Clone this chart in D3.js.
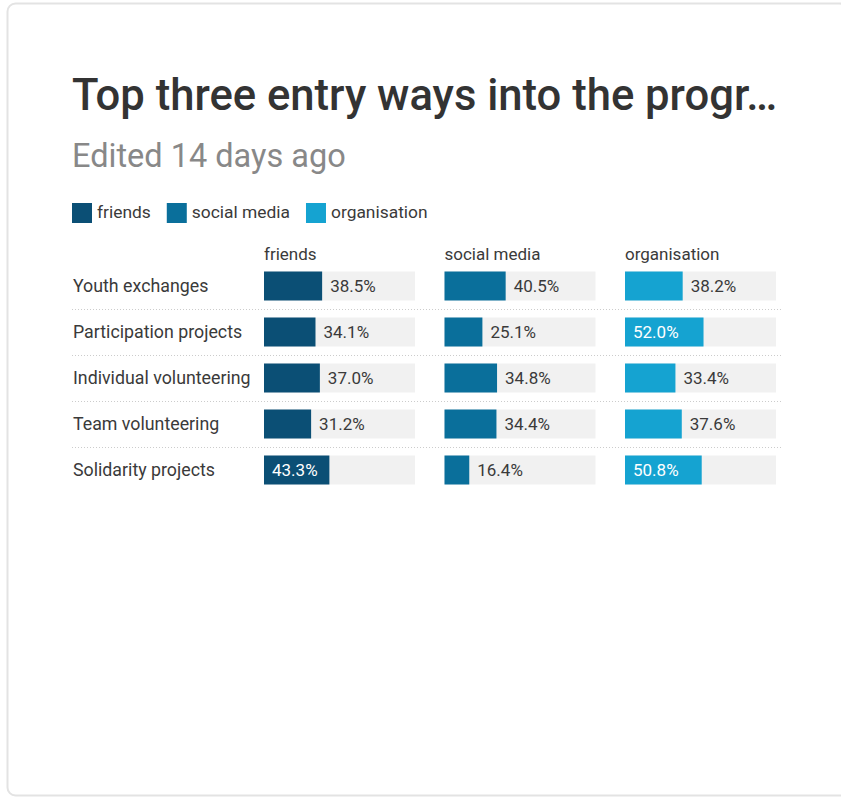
<!DOCTYPE html>
<meta charset="utf-8">
<script src="https://d3js.org/d3.v7.min.js"></script>
<style>
  body { margin: 0; background: #fff; font-family: Roboto, sans-serif; }
</style>
<div id="my_dataviz"></div>
<script>
// data
var categories = ["Youth exchanges", "Participation projects", "Individual volunteering", "Team volunteering", "Solidarity projects"];
var series = ["friends", "social media", "organisation"];
var friends = [38.5, 34.1, 37.0, 31.2, 43.3];
var socialMedia = [40.5, 25.1, 34.8, 34.4, 16.4];
var organisation = [38.2, 52.0, 33.4, 37.6, 50.8];
var colors = ["#0b4f75", "#0a6f9b", "#15a3d1"];

var values = [friends, socialMedia, organisation];

var W = 841, H = 799;
var svg = d3.select("#my_dataviz").append("svg")
  .attr("width", W).attr("height", H);

// card frame
svg.append("rect")
  .attr("x", 7.5).attr("y", 3.5).attr("width", 840).attr("height", 792)
  .attr("rx", 8).attr("fill", "#fff").attr("stroke", "#e3e3e3").attr("stroke-width", 2);

// title + subtitle
svg.append("text").attr("x", 72).attr("y", 110)
  .attr("font-size", 43.6).attr("font-weight", 500).attr("fill", "#333")
  .text("Top three entry ways into the progr\u2026");
svg.append("text").attr("x", 72).attr("y", 167)
  .attr("font-size", 32.5).attr("fill", "#888")
  .text("Edited 14 days ago");

// legend
var legend = svg.append("g").attr("transform", "translate(72,203)");
var lx = 0;
series.forEach(function(s, i) {
  var g = legend.append("g").attr("transform", "translate(" + lx + ",0)");
  g.append("rect").attr("width", 20).attr("height", 20).attr("fill", colors[i]);
  var t = g.append("text").attr("x", 25).attr("y", 15)
    .attr("font-size", 17.4).attr("fill", "#3a3a3a").text(s);
  lx += 25 + t.node().getComputedTextLength() + 16;
});

// rows and columns
var y = d3.scaleBand().domain(categories).range([263, 493]).paddingInner(0.37).paddingOuter(0.185);
var colX = d3.scalePoint().domain(series).range([264, 625]);
var x = d3.scaleLinear().domain([0, 100]).range([0, 151]);

// column headers
svg.selectAll(".colhead").data(series).enter().append("text")
  .attr("x", function(d) { return colX(d); }).attr("y", 260)
  .attr("font-size", 17).attr("fill", "#3a3a3a").text(function(d) { return d; });

// row labels
svg.selectAll(".rowlab").data(categories).enter().append("text")
  .attr("x", 73).attr("y", function(d) { return y(d) + y.bandwidth() / 2 + 6; })
  .attr("font-size", 17.8).attr("fill", "#3a3a3a").text(function(d) { return d; });

// dotted separators
svg.selectAll(".sep").data(categories.slice(1)).enter().append("line")
  .attr("x1", 72).attr("x2", 783)
  .attr("y1", function(d) { return y(d) - y.step() * y.paddingInner() / 2 + 0.5; })
  .attr("y2", function(d) { return y(d) - y.step() * y.paddingInner() / 2 + 0.5; })
  .attr("stroke", "#ccc").attr("stroke-dasharray", "1,2");

series.forEach(function(s, si) {
  var g = svg.append("g").attr("transform", "translate(" + colX(s) + ",0)");
  var rows = g.selectAll("g").data(categories).enter().append("g")
    .attr("transform", function(d) { return "translate(0," + y(d) + ")"; });
  rows.append("rect").attr("width", x(100)).attr("height", y.bandwidth()).attr("fill", "#f1f1f1");
  rows.append("rect").attr("width", function(d, i) { return x(values[si][i]); })
    .attr("height", y.bandwidth()).attr("fill", colors[si]);
  rows.append("text")
    .attr("x", function(d, i) { var v = values[si][i]; return v > 42 ? 8 : x(v) + 8; })
    .attr("y", y.bandwidth() / 2 + 6)
    .attr("font-size", 17)
    .attr("fill", function(d, i) { return values[si][i] > 42 ? "#fff" : "#3a3a3a"; })
    .text(function(d, i) { return values[si][i].toFixed(1) + "%"; });
});
</script>
